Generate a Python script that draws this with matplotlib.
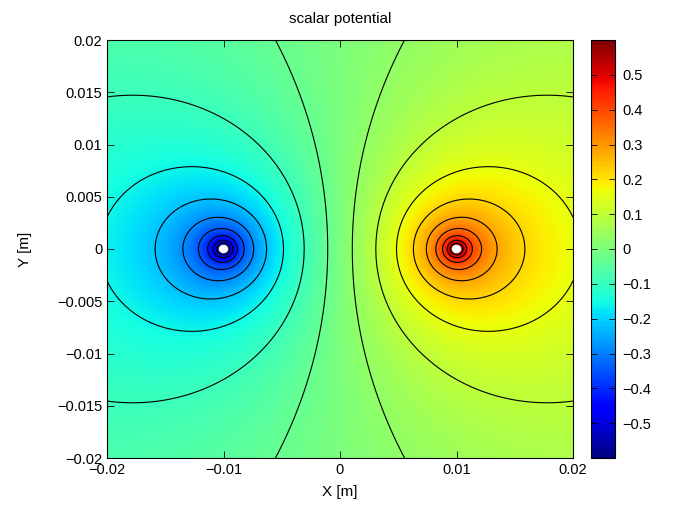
import numpy as np
import matplotlib.pyplot as plt

plt.rcParams['font.family'] = ['Liberation Sans', 'DejaVu Sans']
plt.rcParams['font.size'] = 10

# two infinite line charges (opposite sign) on the x axis
charge_x = [-0.01, 0.01]
charge_y = [0.0, 0.0]
charge_q = [-1.0, 1.0]
k_line = 0.149          # lambda / (2*pi*eps0), scaled
vmin, vmax = -0.6, 0.6
v_cut = 0.58            # values beyond this are left blank near the wires
levels = np.linspace(vmin, vmax, 20)[1:-1]
xticks = [-0.02, -0.01, 0, 0.01, 0.02]
yticks = [-0.02, -0.015, -0.01, -0.005, 0, 0.005, 0.01, 0.015, 0.02]
cticks = [-0.5, -0.4, -0.3, -0.2, -0.1, 0, 0.1, 0.2, 0.3, 0.4, 0.5]


def fmt(v):
    s = '0' if v == 0 else ('%g' % v)
    return s.replace('-', '\u2212')


x = np.linspace(-0.02, 0.02, 800)
y = np.linspace(-0.02, 0.02, 800)
X, Y = np.meshgrid(x, y)
V = np.zeros_like(X)
for cx, cy, q in zip(charge_x, charge_y, charge_q):
    r = np.hypot(X - cx, Y - cy)
    V += -k_line * q * np.log(r)
V = np.ma.masked_where(np.abs(V) > v_cut, V)

cmap = plt.get_cmap('jet').copy()
cmap.set_bad('white')

fig = plt.figure(figsize=(6.74, 5.16), dpi=100)
ax = fig.add_axes([107/674, 58/516, 466/674, 418/516])
cax = fig.add_axes([591/674, 58/516, 24/674, 418/516])

im = ax.imshow(V, extent=[-0.02, 0.02, -0.02, 0.02], origin='lower',
               cmap=cmap, vmin=vmin, vmax=vmax, aspect='auto',
               interpolation='bilinear')
ax.contour(X, Y, V, levels=levels, colors='k', linewidths=0.8,
           linestyles='solid')

ax.set_xlim(-0.02, 0.02)
ax.set_ylim(-0.02, 0.02)
ax.set_xticks(xticks)
ax.set_yticks(yticks)
ax.set_xticklabels([fmt(v) for v in xticks])
ax.set_yticklabels([fmt(v) for v in yticks])
ax.tick_params(direction='in', top=True, right=True, length=5, width=0.6,
               labelsize=10.5)
for s in ax.spines.values():
    s.set_linewidth(0.8)
ax.set_xlabel('X [m]', fontsize=11, labelpad=6)
ax.set_ylabel('Y [m]', fontsize=11, labelpad=18)
ax.set_title('scalar potential', fontsize=11, pad=12)

cb = fig.colorbar(im, cax=cax, ticks=cticks)
cb.ax.set_yticklabels([fmt(v) for v in cticks])
cb.ax.tick_params(direction='in', left=True, right=True, length=4, width=0.6,
                  labelsize=10.5, pad=5)
cb.outline.set_linewidth(0.8)

fig.savefig('out.png', dpi=100)
